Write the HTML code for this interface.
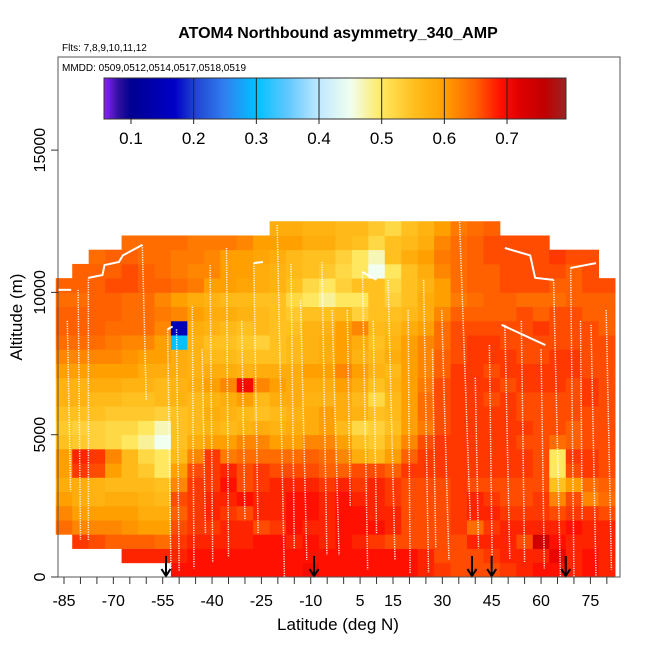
<!DOCTYPE html>
<html><head><meta charset="utf-8"><style>
body{margin:0;background:#fff}
svg{display:block;font-family:"Liberation Sans",Arial,sans-serif}
</style></head><body>
<svg id="chart" width="650" height="650" viewBox="0 0 650 650">
<rect x="0" y="0" width="650" height="650" fill="#fff"/>
<text x="338" y="38" text-anchor="middle" font-size="16" font-weight="bold">ATOM4 Northbound asymmetry_340_AMP</text>
<text x="62" y="51" font-size="10">Flts: 7,8,9,10,11,12</text>
<g id="heat"></g>
<g id="tracks"></g>
<g id="arrows"></g>
<rect x="58" y="57" width="562" height="520" fill="none" stroke="#555" stroke-width="1"/>
<text x="62" y="71" font-size="10">MMDD: 0509,0512,0514,0517,0518,0519</text>
<defs><linearGradient id="cbg" x1="0" x2="1" y1="0" y2="0"></linearGradient></defs>
<g id="cbar"></g>
<g id="xaxis"></g>
<g id="yaxis"></g>
<text x="338" y="630" text-anchor="middle" font-size="17">Latitude (deg N)</text>
<text transform="translate(22,317) rotate(-90)" text-anchor="middle" font-size="17">Altitude (m)</text>
</svg>
<script>
const latCenters=[-85,-80,-75,-70,-65,-60,-55,-50,-45,-40,-35,-30,-25,-20,-15,-10,-5,0,5,10,15,20,25,30,35,40,45,50,55,60,65,70,75,80];
const altBinBottoms=[0,500,1000,1500,2000,2500,3000,3500,4000,4500,5000,5500,6000,6500,7000,7500,8000,8500,9000,9500,10000,10500,11000,11500,12000];
const rowStart=[7,4,1,0,0,0,0,0,0,0,0,0,0,0,0,0,0,0,0,0,0,1,2,4,13];
const rowValues=[
[0.69,0.69,0.69,0.69,0.69,0.69,0.69,0.69,0.7,0.69,0.69,0.69,0.69,0.69,0.69,0.68,0.67,0.66,0.66,0.66,0.67,0.68,0.69,0.69,0.68,0.69,0.68],
[0.68,0.68,0.68,0.68,0.69,0.69,0.69,0.69,0.69,0.69,0.69,0.69,0.69,0.69,0.69,0.69,0.69,0.69,0.68,0.66,0.66,0.66,0.67,0.68,0.68,0.68,0.71,0.68,0.69,0.68],
[0.67,0.66,0.65,0.65,0.65,0.64,0.67,0.68,0.68,0.68,0.68,0.69,0.69,0.68,0.69,0.68,0.69,0.68,0.67,0.66,0.66,0.66,0.66,0.66,0.68,0.68,0.68,0.66,0.74,0.69,0.68,0.68,0.68],
[0.64,0.62,0.62,0.62,0.61,0.6,0.6,0.66,0.67,0.67,0.68,0.68,0.66,0.67,0.69,0.68,0.68,0.69,0.69,0.69,0.68,0.66,0.66,0.66,0.67,0.64,0.67,0.68,0.68,0.68,0.68,0.69,0.68,0.68],
[0.62,0.6,0.6,0.6,0.6,0.58,0.58,0.65,0.67,0.68,0.67,0.66,0.68,0.68,0.69,0.69,0.68,0.69,0.69,0.68,0.68,0.66,0.66,0.66,0.67,0.68,0.68,0.67,0.67,0.67,0.66,0.67,0.67,0.66],
[0.6,0.58,0.57,0.58,0.58,0.57,0.56,0.66,0.67,0.68,0.68,0.69,0.68,0.68,0.69,0.69,0.68,0.69,0.68,0.68,0.67,0.66,0.66,0.66,0.67,0.68,0.67,0.66,0.66,0.67,0.62,0.66,0.62,0.64],
[0.58,0.58,0.57,0.56,0.56,0.56,0.55,0.62,0.67,0.67,0.69,0.66,0.67,0.68,0.68,0.68,0.67,0.68,0.67,0.68,0.67,0.66,0.66,0.66,0.67,0.66,0.66,0.66,0.66,0.66,0.55,0.6,0.64,0.65],
[0.6,0.67,0.66,0.6,0.56,0.54,0.5,0.6,0.66,0.67,0.68,0.66,0.67,0.66,0.66,0.66,0.65,0.65,0.66,0.66,0.65,0.67,0.67,0.67,0.67,0.67,0.67,0.67,0.67,0.66,0.5,0.66,0.67,0.66],
[0.6,0.68,0.67,0.62,0.56,0.52,0.5,0.56,0.62,0.67,0.63,0.64,0.64,0.64,0.64,0.65,0.64,0.62,0.58,0.56,0.6,0.65,0.67,0.67,0.67,0.67,0.67,0.67,0.67,0.66,0.5,0.67,0.67,0.66],
[0.55,0.54,0.53,0.52,0.5,0.48,0.45,0.55,0.58,0.6,0.6,0.62,0.62,0.6,0.6,0.62,0.62,0.6,0.55,0.54,0.57,0.62,0.66,0.67,0.67,0.67,0.67,0.67,0.66,0.66,0.64,0.65,0.66,0.66],
[0.54,0.53,0.53,0.52,0.52,0.5,0.47,0.55,0.56,0.57,0.56,0.57,0.58,0.57,0.58,0.58,0.6,0.56,0.52,0.53,0.55,0.6,0.63,0.66,0.67,0.67,0.67,0.67,0.67,0.66,0.66,0.65,0.66,0.66],
[0.55,0.55,0.55,0.54,0.54,0.54,0.53,0.55,0.56,0.58,0.57,0.56,0.55,0.56,0.57,0.58,0.6,0.58,0.57,0.55,0.56,0.6,0.64,0.66,0.67,0.67,0.67,0.67,0.66,0.66,0.66,0.66,0.66,0.66],
[0.57,0.57,0.56,0.56,0.55,0.55,0.56,0.57,0.56,0.57,0.58,0.6,0.56,0.58,0.58,0.57,0.57,0.58,0.56,0.52,0.56,0.6,0.64,0.66,0.67,0.67,0.66,0.67,0.66,0.66,0.66,0.66,0.67,0.66],
[0.57,0.57,0.58,0.58,0.57,0.57,0.56,0.57,0.58,0.6,0.62,0.7,0.62,0.6,0.58,0.58,0.58,0.6,0.58,0.55,0.57,0.6,0.63,0.66,0.67,0.67,0.67,0.66,0.67,0.67,0.67,0.66,0.67,0.66],
[0.6,0.6,0.6,0.6,0.6,0.58,0.58,0.58,0.57,0.58,0.58,0.57,0.58,0.58,0.58,0.6,0.6,0.62,0.6,0.57,0.56,0.6,0.62,0.65,0.67,0.67,0.66,0.67,0.67,0.67,0.67,0.67,0.66,0.66],
[0.62,0.62,0.62,0.62,0.61,0.6,0.6,0.58,0.57,0.56,0.56,0.55,0.55,0.55,0.56,0.57,0.58,0.6,0.57,0.56,0.58,0.6,0.62,0.65,0.66,0.67,0.67,0.67,0.66,0.66,0.67,0.67,0.66,0.66],
[0.64,0.64,0.64,0.63,0.62,0.62,0.6,0.3,0.57,0.55,0.55,0.54,0.53,0.55,0.56,0.57,0.58,0.6,0.58,0.55,0.57,0.6,0.62,0.64,0.66,0.67,0.67,0.66,0.66,0.66,0.66,0.66,0.66,0.66],
[0.65,0.65,0.65,0.64,0.64,0.64,0.62,0.15,0.58,0.57,0.56,0.55,0.56,0.55,0.55,0.57,0.57,0.6,0.62,0.56,0.56,0.58,0.6,0.64,0.66,0.66,0.66,0.66,0.66,0.67,0.66,0.66,0.66,0.65],
[0.65,0.65,0.65,0.65,0.64,0.64,0.63,0.62,0.6,0.58,0.58,0.57,0.56,0.55,0.54,0.55,0.55,0.56,0.53,0.55,0.55,0.56,0.58,0.62,0.65,0.65,0.65,0.65,0.66,0.65,0.66,0.66,0.65,0.65],
[0.64,0.64,0.65,0.65,0.64,0.64,0.62,0.6,0.58,0.57,0.56,0.56,0.55,0.55,0.52,0.5,0.48,0.5,0.5,0.55,0.53,0.55,0.58,0.6,0.63,0.64,0.65,0.65,0.64,0.64,0.64,0.65,0.65,0.65],
[0.65,0.65,0.65,0.66,0.66,0.65,0.65,0.64,0.63,0.6,0.6,0.59,0.58,0.57,0.55,0.52,0.5,0.53,0.55,0.55,0.52,0.55,0.57,0.6,0.64,0.65,0.65,0.66,0.66,0.66,0.65,0.65,0.66,0.66],
[0.65,0.65,0.65,0.66,0.65,0.64,0.63,0.62,0.62,0.6,0.6,0.58,0.57,0.56,0.55,0.54,0.52,0.5,0.45,0.5,0.55,0.58,0.62,0.64,0.65,0.65,0.66,0.66,0.66,0.66,0.65,0.66],
[0.64,0.65,0.65,0.64,0.64,0.63,0.63,0.62,0.6,0.6,0.59,0.58,0.56,0.55,0.55,0.53,0.5,0.47,0.55,0.58,0.6,0.63,0.64,0.65,0.66,0.66,0.66,0.66,0.67,0.66,0.66],
[0.64,0.64,0.64,0.64,0.63,0.63,0.63,0.62,0.6,0.6,0.6,0.58,0.58,0.56,0.55,0.52,0.55,0.56,0.58,0.62,0.64,0.65,0.66,0.66,0.66,0.66],
[0.58,0.58,0.57,0.57,0.56,0.56,0.54,0.52,0.55,0.57,0.6,0.63,0.64,0.65]
];
const xTickLabels=[-85,-70,-55,-40,-25,-10,5,15,30,45,60,75];
const yTickLabels=[0,5000,10000,15000];
const cbarTicks=[0.1,0.2,0.3,0.4,0.5,0.6,0.7];
const arrowLats=[-54,-9,39,45,67.5];
const profileSegments=[
[-80.7,10090,-80,1300],[-77.6,1300,-77.6,10510],[-61.2,11670,-60,6220],
[-53.5,8700,-52.5,300],[-50.8,8700,-50,200],[-46,9500,-45.5,300],[-40.6,10960,-39.8,500],
[-35.6,11560,-35,700],[-27.3,11030,-26,1500],[-20.2,12370,-18,0],[-13.1,9730,-11.2,600],
[-6.6,11070,-5.1,770],[-3.5,9380,-1.4,770],[1.1,9380,2,2500],[5.7,10720,7.3,250],
[13.5,10440,15.6,600],[19.6,9380,20.2,140],[24.3,10440,25.8,140],[29.8,9380,32,600],
[35.1,12900,38.5,2000],[44.3,8150,45.2,0],[49,8860,50.5,600],[63.8,10440,65.9,0],
[69,10860,70,0],[75.2,8860,76.7,0],[79.8,9380,81.4,250],
[-84,9000,-83,3000],[-43,8000,-42,1500],[-31,9000,-30,2000],[-16,11000,-15,1000],
[9,9000,10,1500],[27,8000,28,1000],[40,7000,41,1000],[54,9000,55,500],[60,8000,61,300],[72,9000,72.5,2000]
];
const levelLegs=[
[[-86.9,10090],[-82.8,10090]],
[[-77.6,10510],[-73.3,10610],[-72.7,10960],[-68.3,11070],[-67.1,11300],[-61.2,11670]],
[[-27.3,11030],[-24.5,11070]],
[[48,8860],[61.3,8150]],
[[49,11560],[56.7,11300],[58.2,10510],[63.8,10440]],
[[69,10860],[76.7,11030]],
[[5.7,10720],[10,10440]],
[[-53.5,8700],[-52,8800]]
];
const colorStops=[[0.06,[128,32,240]],[0.08,[48,16,160]],[0.1,[0,0,144]],[0.17,[0,0,200]],[0.2,[32,64,208]],[0.25,[48,128,240]],[0.3,[0,192,255]],[0.35,[96,200,255]],[0.4,[192,232,255]],[0.45,[240,255,240]],[0.5,[255,232,96]],[0.55,[255,192,32]],[0.6,[255,160,0]],[0.65,[255,96,0]],[0.69,[255,16,0]],[0.72,[224,0,0]],[0.76,[192,0,0]],[0.79,[160,32,32]]];

const NS='http://www.w3.org/2000/svg';
const xs=lat=>64+3.29*(lat+85);
const ys=alt=>577-alt*0.02846;
const cx=v=>131+(v-0.1)*626.7;
function col(v){
  if(v<=colorStops[0][0])return 'rgb('+colorStops[0][1]+')';
  for(let i=1;i<colorStops.length;i++){
    if(v<=colorStops[i][0]){const a=colorStops[i-1],b=colorStops[i];const t=(v-a[0])/(b[0]-a[0]);
      return 'rgb('+a[1].map((c,k)=>Math.round(c+(b[1][k]-c)*t)).join(',')+')';}
  }
  return 'rgb('+colorStops[colorStops.length-1][1]+')';
}
function mk(tag,attrs,parent){const e=document.createElementNS(NS,tag);for(const k in attrs)e.setAttribute(k,attrs[k]);parent.appendChild(e);return e;}

const heat=document.getElementById('heat');
rowValues.forEach((row,r)=>{
  row.forEach((v,j)=>{
    const lat=latCenters[rowStart[r]+j];
    const x0=xs(lat-2.5),x1=xs(lat+2.5),y1=ys(altBinBottoms[r]),y0=ys(altBinBottoms[r]+500);
    const c=mk('rect',{x:x0.toFixed(2),y:y0.toFixed(2),width:(x1-x0+0.4).toFixed(2),height:(y1-y0+0.4).toFixed(2),fill:col(v)},heat);
    
    
  });
});

const tr=document.getElementById('tracks');
profileSegments.forEach(s=>{
  const l=mk('line',{x1:xs(s[0]),y1:ys(s[1]),x2:xs(s[2]),y2:ys(s[3]),stroke:'#fff','stroke-width':1.5,'stroke-dasharray':'1.2 1.2',opacity:0.9},tr);
  
  
});
levelLegs.forEach(p=>{
  const pl=mk('polyline',{points:p.map(q=>xs(q[0])+','+ys(q[1])).join(' '),fill:'none',stroke:'#fff','stroke-width':2},tr);
  
  
});

const ar=document.getElementById('arrows');
arrowLats.forEach(lat=>{
  const x=xs(lat);
  const g=mk('path',{d:`M${x},556 L${x},576 M${x-4.5},569 L${x},576 L${x+4.5},569`,stroke:'#000','stroke-width':2,fill:'none'},ar);
  
  
});

const grad=document.getElementById('cbg');
for(let v=0.06;v<=0.795;v+=0.01){
  mk('stop',{offset:((cx(v)-104)/462).toFixed(4),'stop-color':col(v)},grad);
}
const cb=document.getElementById('cbar');
const cbr=mk('rect',{x:104,y:78,width:462,height:41,fill:'url(#cbg)',stroke:'#333','stroke-width':1},cb);


cbarTicks.forEach(v=>{
  const x=cx(v);
  if(v>0.15){const l=mk('line',{x1:x,y1:78,x2:x,y2:119,stroke:'#222','stroke-width':1},cb);
    
    }
  const tk=mk('line',{x1:x,y1:119,x2:x,y2:124,stroke:'#222'},cb);
  
  
  const t=mk('text',{x:x,y:144,'text-anchor':'middle','font-size':17},cb);t.textContent=v.toFixed(1);
  
  
});

const xa=document.getElementById('xaxis');
for(let lat=-85;lat<=85;lat+=5){
  const x=xs(lat);if(x>621)break;
  const l=mk('line',{x1:x,y1:577,x2:x,y2:584,stroke:'#333'},xa);
  
  
}
xTickLabels.forEach(v=>{
  const t=mk('text',{x:xs(v),y:606,'text-anchor':'middle','font-size':16},xa);t.textContent=v;
  
  
});
const ya=document.getElementById('yaxis');
yTickLabels.forEach(v=>{
  const y=ys(v);
  const l=mk('line',{x1:51,y1:y,x2:58,y2:y,stroke:'#333'},ya);
  
  
  const t=mk('text',{transform:`translate(45,${y}) rotate(-90)`,'text-anchor':'middle','font-size':16},ya);t.textContent=v;
  
  
});
</script>
</body></html>
